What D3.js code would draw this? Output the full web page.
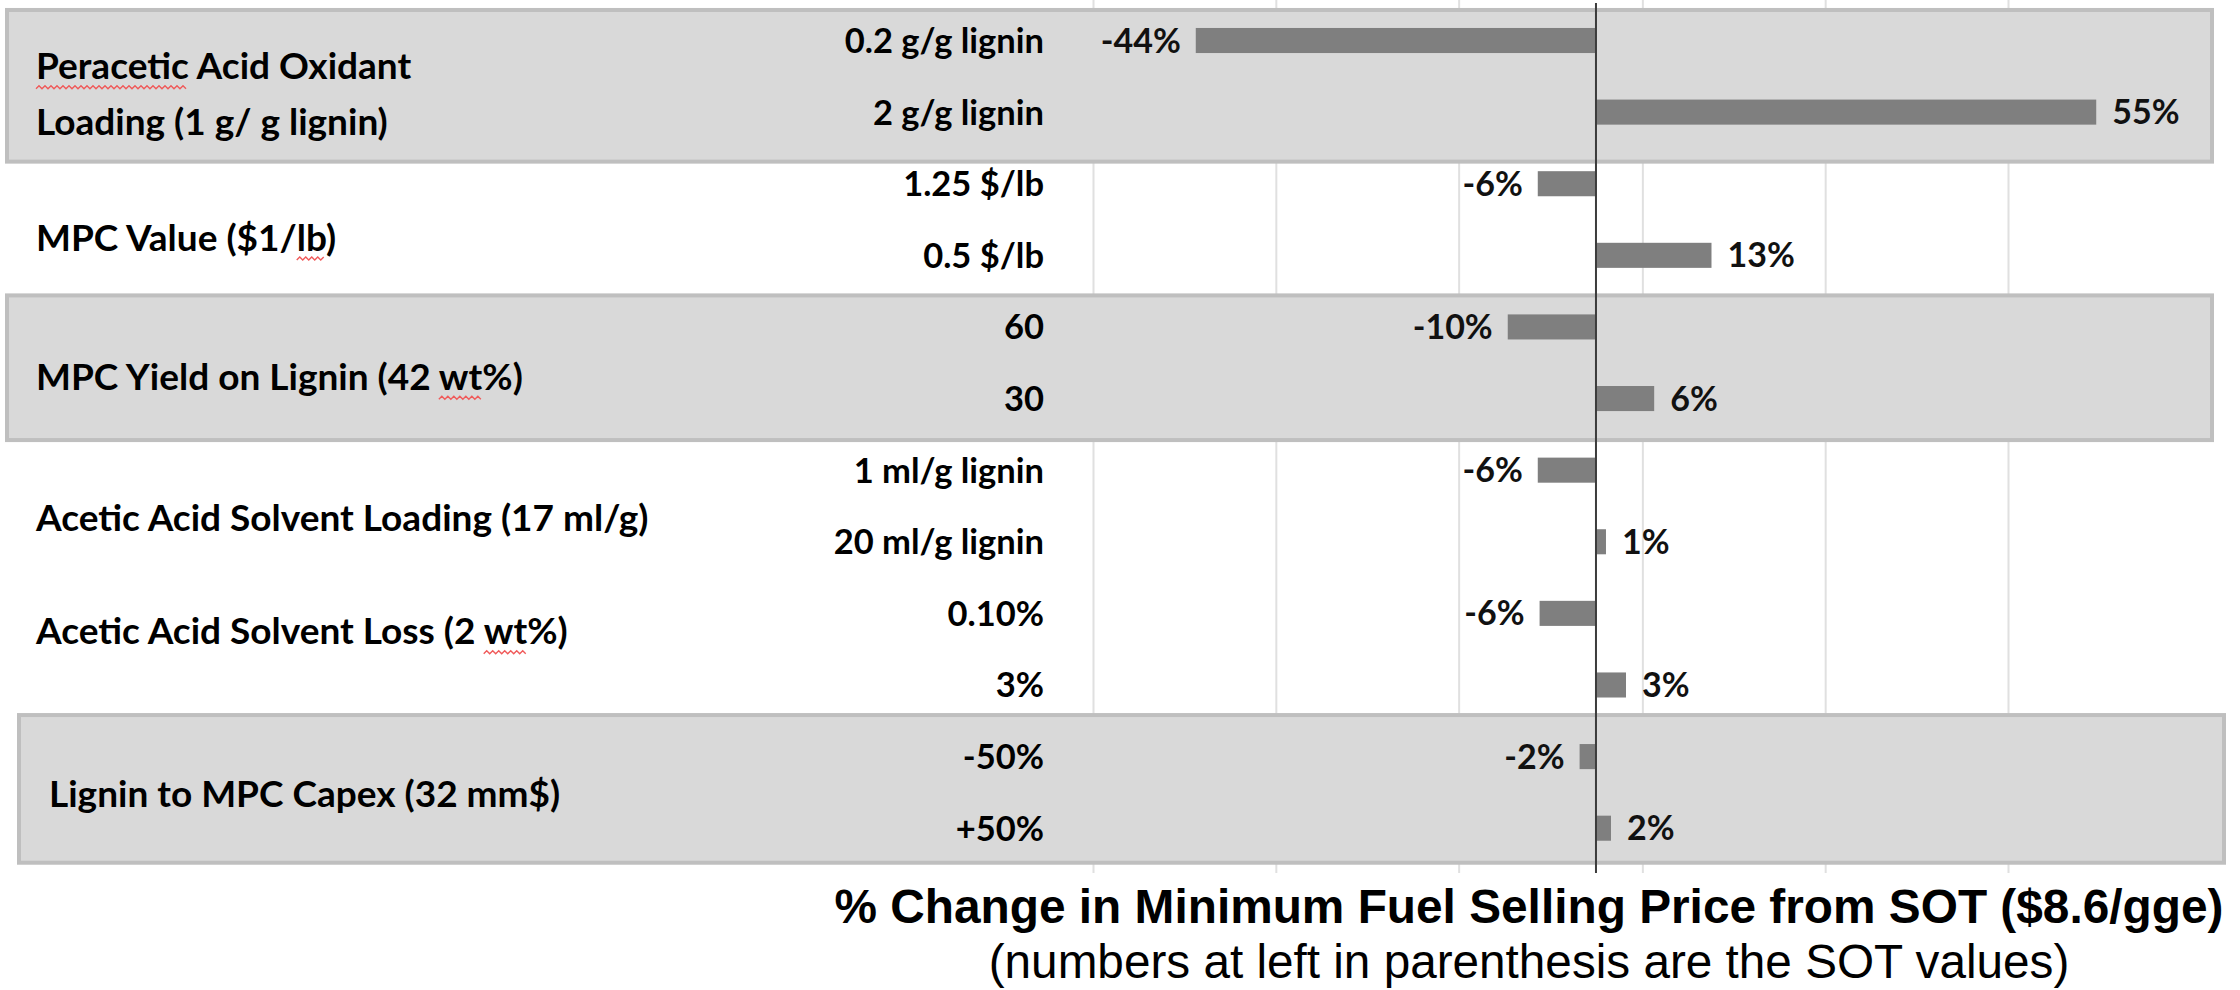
<!DOCTYPE html>
<html>
<head>
<meta charset="utf-8">
<script src="https://cdn.jsdelivr.net/npm/d3@7"></script>
<style>
  body { margin: 0; background: #fff; }
  svg { display: block; }
</style>
</head>
<body>
<div id="chart"></div>
<script>
// parameters (SOT value in parenthesis)
var groups = [
  ["Peracetic Acid Oxidant", "Loading (1 g/ g lignin)"],
  ["MPC Value ($1/lb)"],
  ["MPC Yield on Lignin (42 wt%)"],
  ["Acetic Acid Solvent Loading (17 ml/g)"],
  ["Acetic Acid Solvent Loss (2 wt%)"],
  ["Lignin to MPC Capex (32 mm$)"]
];
// two cases per parameter, top to bottom
var cases = ["0.2 g/g lignin", "2 g/g lignin", "1.25 $/lb", "0.5 $/lb", "60", "30",
             "1 ml/g lignin", "20 ml/g lignin", "0.10%", "3%", "-50%", "+50%"];
// % change in MFSP
var changes = [-44, 55, -6.4, 12.7, -9.7, 6.4, -6.4, 1.1, -6.2, 3.3, -1.8, 1.65];
var changeLabels = ["-44%", "55%", "-6%", "13%", "-10%", "6%", "-6%", "1%", "-6%", "3%", "-2%", "2%"];
// vertical gridlines (% change)
var gridTicks = [-55.3, -35.2, -15.1, 5.1, 25.2, 45.3];
// parameters drawn on a shaded band
var shadedGroups = [0, 2, 5];
// words flagged by the spell checker in the original slide
var spellMarks = [[0, 0, "Peracetic"], [1, 0, "lb"], [2, 0, "wt"], [4, 0, "wt"]];

var title = "% Change in Minimum Fuel Selling Price from SOT ($8.6/gge)";
var subtitle = "(numbers at left in parenthesis are the SOT values)";

// layout
var width = 2240, height = 990;
var plotTop = 4.7, plotBottom = 864, gridBottom = 873;
var labelFont = "Lato, 'Open Sans', sans-serif";

// little hand tweaks of the overlay boxes and labels (pixels)
var boxLayout = [
  {x0: 5, x1: 2214, above: 20, below: 39},
  {x0: 5, x1: 2214, above: 21, below: 31},
  {x0: 17, x1: 2226, above: 31, below: 24}
];
var groupLabelX = [36, 36, 36, 36, 36, 49];
var groupLabelShift = [18, 18, 14, 12.5, -18, 1.5];

var svg = d3.select("#chart").append("svg")
    .attr("width", width)
    .attr("height", height)
    .style("background", "#fff");

var x = d3.scaleLinear()
    .domain([-55.3, 45.3])
    .range([1093, 2008]);

var y = d3.scaleBand()
    .domain(d3.range(cases.length))
    .range([plotTop, plotBottom])
    .paddingInner(0.65)
    .paddingOuter(0.325);

// gridlines via axis
var grid = svg.append("g")
    .attr("class", "grid")
    .attr("transform", "translate(0," + gridBottom + ")")
    .call(d3.axisBottom(x)
      .tickValues(gridTicks)
      .tickSize(-gridBottom)
      .tickFormat(""));
grid.select(".domain").remove();
grid.selectAll(".tick line")
    .attr("stroke", "#e0e0e0")
    .attr("stroke-width", 2);

// shaded bands
shadedGroups.forEach(function(g, i) {
  var b = boxLayout[i];
  var top = y(g * 2) - b.above;
  var bottom = y(g * 2 + 1) + y.bandwidth() + b.below;
  svg.append("rect")
      .attr("x", b.x0 + 2)
      .attr("y", top + 2)
      .attr("width", b.x1 - b.x0 - 4)
      .attr("height", bottom - top - 4)
      .attr("fill", "#d9d9d9")
      .attr("stroke", "#bfbfbf")
      .attr("stroke-width", 4);
});

// bars
svg.selectAll(".bar")
    .data(changes)
  .enter().append("rect")
    .attr("class", "bar")
    .attr("x", function(d) { return x(Math.min(0, d)); })
    .attr("y", function(d, i) { return y(i); })
    .attr("width", function(d) { return Math.abs(x(d) - x(0)); })
    .attr("height", y.bandwidth())
    .attr("fill", "#7f7f7f");

// value labels
svg.selectAll(".val")
    .data(changes)
  .enter().append("text")
    .attr("class", "val")
    .attr("x", function(d) { return d < 0 ? x(d) - 15 : x(d) + 16; })
    .attr("y", function(d, i) { return y(i) + y.bandwidth() / 2 + 12; })
    .attr("text-anchor", function(d) { return d < 0 ? "end" : "start"; })
    .style("font-family", labelFont)
    .style("font-weight", 700)
    .style("font-size", "34px")
    .attr("fill", "#111")
    .text(function(d, i) { return changeLabels[i]; });

// case labels
svg.selectAll(".case")
    .data(cases)
  .enter().append("text")
    .attr("class", "case")
    .attr("x", 1044)
    .attr("y", function(d, i) { return y(i) + y.bandwidth() / 2 + 12.5; })
    .attr("text-anchor", "end")
    .style("font-family", labelFont)
    .style("font-weight", 700)
    .style("font-size", "34.5px")
    .attr("fill", "#000")
    .text(function(d) { return d; });

// parameter labels
var groupText = [];
groups.forEach(function(lines, g) {
  var mid = (y(g * 2) + y(g * 2 + 1) + y.bandwidth()) / 2 + groupLabelShift[g];
  var lineH = 56;
  groupText[g] = lines.map(function(t, k) {
    var cy = mid + (k - (lines.length - 1) / 2) * lineH;
    return svg.append("text")
        .attr("x", groupLabelX[g])
        .attr("y", cy + 13)
        .style("font-family", labelFont)
        .style("font-weight", 700)
        .style("font-size", "37px")
        .attr("fill", "#000")
        .text(t);
  });
});

// red wavy underlines
spellMarks.forEach(function(m) {
  var t = groupText[m[0]][m[1]];
  var node = t.node();
  var str = t.text();
  var i0 = str.lastIndexOf(m[2]);
  var x0 = node.getStartPositionOfChar(i0).x;
  var w = node.getSubStringLength(i0, m[2].length);
  var yb = +t.attr("y") + 8;
  var pts = d3.range(0, Math.floor(w / 3) + 1).map(function(k) {
    return [x0 + k * 3, yb + (k % 2 ? -1.5 : 1.5)];
  });
  svg.append("path")
      .attr("d", d3.line()(pts))
      .attr("fill", "none")
      .attr("stroke", "#f05a5a")
      .attr("stroke-width", 1.4);
});

// zero line
svg.append("line")
    .attr("x1", x(0)).attr("x2", x(0))
    .attr("y1", 3).attr("y2", gridBottom)
    .attr("stroke", "#3c3c3c")
    .attr("stroke-width", 2);

// axis title
svg.append("text")
    .attr("x", 1529)
    .attr("y", 923)
    .attr("text-anchor", "middle")
    .style("font-family", "'Liberation Sans', Arial, sans-serif")
    .style("font-weight", 700)
    .style("font-size", "47.8px")
    .text(title);

svg.append("text")
    .attr("x", 1529)
    .attr("y", 978)
    .attr("text-anchor", "middle")
    .style("font-family", "'Liberation Sans', Arial, sans-serif")
    .style("font-size", "47.7px")
    .text(subtitle);
</script>
</body>
</html>
